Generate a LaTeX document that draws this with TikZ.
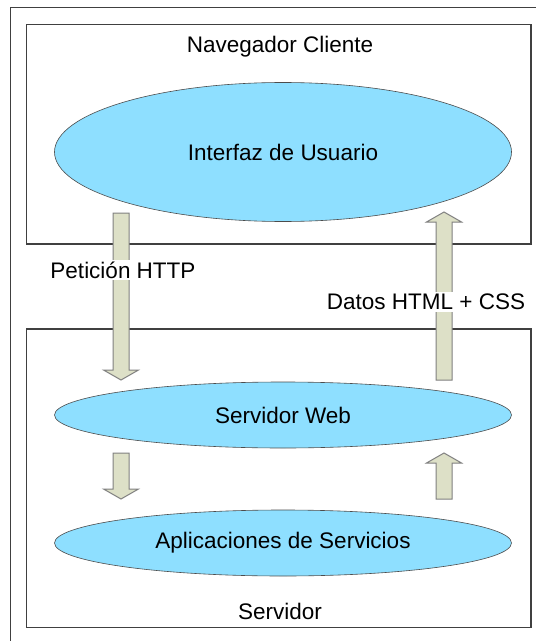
\documentclass[tikz,border=0pt]{standalone}
\usepackage{fontspec}
\setmainfont{Liberation Sans}
\usepackage{tikz}
\usetikzlibrary{shapes.geometric,calc}

\definecolor{framegray}{RGB}{64,64,64}
\definecolor{layerblue}{RGB}{142,223,255}
\definecolor{arrowfill}{RGB}{221,224,199}
\definecolor{arrowline}{RGB}{128,128,128}

\tikzset{
  layerbox/.style={draw=framegray,line width=1.2bp},
  layer/.style={ellipse,draw=black!70,fill=layerblue,line width=0.6bp,
    minimum width=457bp,inner sep=0pt},
  caption/.style={inner sep=2bp},
  flowlabel/.style={fill=white,inner sep=2bp},
  blockarrow/.style={draw=arrowline,fill=arrowfill,line width=1bp,line join=miter}
}

% fat arrow from #1 to #2 (tip at #2)
\newcommand{\blockarrow}[2]{%
  \coordinate (hb) at ($(#2)!10bp!(#1)$);
  \draw[blockarrow] ($(#1)!8bp!90:(#2)$) -- ($(hb)!8bp!-90:(#1)$)
    -- ($(hb)!17.5bp!-90:(#1)$) -- (#2) -- ($(hb)!17.5bp!90:(#1)$)
    -- ($(hb)!8bp!90:(#1)$) -- ($(#1)!8bp!-90:(#2)$) -- cycle;}

\begin{document}
\begin{tikzpicture}[x=1bp,y=-1bp,font=\fontsize{22.5bp}{27bp}\selectfont]
  \useasboundingbox (0,0) rectangle (536,641);
  \fill[white] (0,0) rectangle (536,641);

  % frames
  \draw[layerbox] (10.5,641) -- (10.5,7.5) -- (536,7.5);
  \draw[layerbox] (26.5,24.5) rectangle (531,244);
  \draw[layerbox] (26.5,329) rectangle (531,627.5);

  % client side
  \node[caption] (client) at (280,47) {Navegador Cliente};
  \node[layer,minimum height=139bp] (ui) at (283,152) {Interfaz de Usuario};

  % server side
  \node[layer,minimum height=66bp] (web) at (283,415) {Servidor Web};
  \node[layer,minimum height=66bp] (apps) at (283,543) {Aplicaciones de Servicios};
  \node[caption] (server) at (280,611) {Servidor};

  % arrow ends
  \coordinate (reqtop) at (121,213);
  \coordinate (reqbot) at (121,380);
  \coordinate (resbot) at (444,380);
  \coordinate (restop) at (444,212);
  \coordinate (calltop) at (121,453);
  \coordinate (callbot) at (121,499);
  \coordinate (retbot) at (444,499);
  \coordinate (rettop) at (444,453);

  \blockarrow{reqtop}{reqbot}
  \blockarrow{resbot}{restop}
  \blockarrow{calltop}{callbot}
  \blockarrow{retbot}{rettop}

  \node[flowlabel] (req) at (123,270) {Petición HTTP};
  \node[flowlabel] (res) at (426,302) {Datos HTML + CSS};
\end{tikzpicture}
\end{document}
